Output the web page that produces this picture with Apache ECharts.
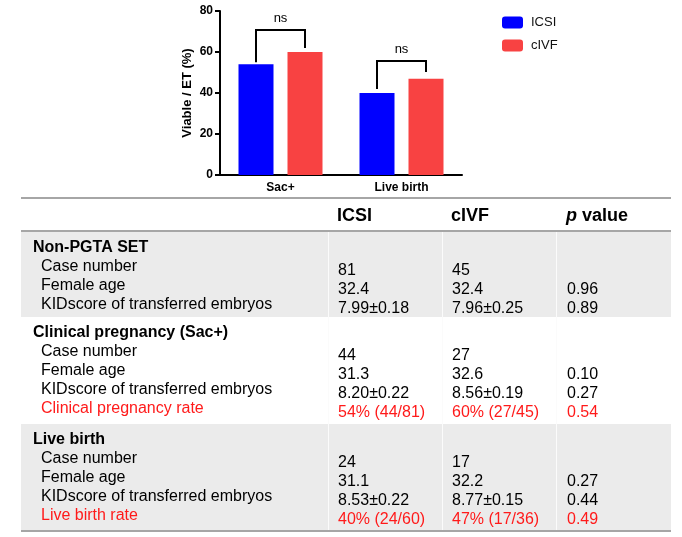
<!DOCTYPE html>
<html>
<head>
<meta charset="utf-8">
<script src="https://cdn.jsdelivr.net/npm/echarts@6/dist/echarts.min.js"></script>
<style>
  html, body { margin: 0; padding: 0; background: #fff; }
  #chart { width: 682px; height: 537px; }
</style>
</head>
<body>
<div id="chart"></div>
<script>
const FONT = '"Liberation Sans", Arial, sans-serif';

// bar chart
const categories = ['Sac+', 'Live birth'];
const icsiRates = [54, 40];
const civfRates = [60, 47];
const yTicks = [0, 20, 40, 60, 80];
// significance brackets: top, left foot, right foot (in % units)
const bracketTop = [70.7, 55.6];
const bracketLeft = [55, 42];
const bracketRight = [62, 50.2];
const bracketLabel = ['ns', 'ns'];

// table
const tableHeader = ['ICSI', 'cIVF', 'p value'];
const sectionTitles = ['Non-PGTA SET', 'Clinical pregnancy (Sac+)', 'Live birth'];
const rowLabels = [
  ['Case number', 'Female age', 'KIDscore of transferred embryos'],
  ['Case number', 'Female age', 'KIDscore of transferred embryos', 'Clinical pregnancy rate'],
  ['Case number', 'Female age', 'KIDscore of transferred embryos', 'Live birth rate']
];
const icsiCol = [
  ['81', '32.4', '7.99±0.18'],
  ['44', '31.3', '8.20±0.22', '54% (44/81)'],
  ['24', '31.1', '8.53±0.22', '40% (24/60)']
];
const civfCol = [
  ['45', '32.4', '7.96±0.25'],
  ['27', '32.6', '8.56±0.19', '60% (27/45)'],
  ['17', '32.2', '8.77±0.15', '47% (17/36)']
];
const pCol = [
  ['', '0.96', '0.89'],
  ['', '0.10', '0.27', '0.54'],
  ['', '0.27', '0.44', '0.49']
];

const chart = echarts.init(document.getElementById('chart'), null, { renderer: 'canvas' });

// ---- table drawn with graphic elements ----
const tblLeft = 21, tblRight = 671;
const colX = [338, 452, 567];
const sepX = [328, 442, 556];
const sectionTop = [232, 317, 424];
const sectionBottom = [317, 424, 531];
const sectionFill = ['#ebebeb', '#ffffff', '#ebebeb'];
const RED = '#ff1a1a';

const g = [];
sectionTop.forEach((top, s) => {
  g.push({ type: 'rect', shape: { x: tblLeft, y: top, width: tblRight - tblLeft, height: sectionBottom[s] - top },
    style: { fill: sectionFill[s] }, silent: true });
  sepX.forEach(x => g.push({ type: 'line', shape: { x1: x + 0.5, y1: top, x2: x + 0.5, y2: sectionBottom[s] },
    style: { stroke: '#fbfbfb', lineWidth: 1 }, silent: true }));
});
[198, 231, 531].forEach(y => g.push({ type: 'line', shape: { x1: tblLeft, y1: y, x2: tblRight, y2: y },
  style: { stroke: '#a6a6a6', lineWidth: 2 }, silent: true }));

tableHeader.forEach((h, i) => {
  const txt = h === 'p value' ? '{i|p} value' : h;
  g.push({ type: 'text', x: colX[i] - 1, y: 216, silent: true,
    style: { text: txt, font: 'bold 18px ' + FONT, fill: '#000', verticalAlign: 'middle',
      rich: { i: { fontStyle: 'italic', fontWeight: 'bold', fontSize: 18, fontFamily: FONT, fill: '#000' } } } });
});

sectionTitles.forEach((t, s) => {
  const top = sectionTop[s];
  g.push({ type: 'text', x: 33, y: top + 15.5, silent: true,
    style: { text: t, font: 'bold 16px ' + FONT, fill: '#000', verticalAlign: 'middle' } });
  rowLabels[s].forEach((lab, r) => {
    const y = top + 34.5 + r * 19;
    const color = r === 3 ? RED : '#000';
    g.push({ type: 'text', x: 41, y: y, silent: true,
      style: { text: lab, font: '16px ' + FONT, fill: color, verticalAlign: 'middle' } });
    [icsiCol[s][r], civfCol[s][r], pCol[s][r]].forEach((v, c) => {
      if (!v) return;
      g.push({ type: 'text', x: colX[c], y: y + 4.5, silent: true,
        style: { text: v, font: '16px ' + FONT, fill: color, verticalAlign: 'middle' } });
    });
  });
});

// ---- bar chart ----
const BAR_W = 35;
const HALF = 24.5;

const option = {
  animation: false,
  backgroundColor: '#fff',
  textStyle: { fontFamily: FONT },
  grid: { left: 220, top: 11, width: 242, height: 164 },
  legend: {
    data: ['ICSI', 'cIVF'],
    orient: 'vertical',
    left: 502, top: 16,
    padding: 0,
    itemWidth: 21, itemHeight: 12, itemGap: 10,
    icon: 'roundRect',
    textStyle: { fontSize: 13, color: '#111', fontFamily: FONT, padding: [0, 0, 0, 3] }
  },
  xAxis: {
    type: 'category',
    data: categories,
    axisLine: { lineStyle: { color: '#000', width: 2 } },
    axisTick: { alignWithLabel: true, length: 5, lineStyle: { color: '#000', width: 2 } },
    axisLabel: { fontSize: 12, fontWeight: 'bold', color: '#000', margin: 7, fontFamily: FONT }
  },
  yAxis: {
    type: 'value',
    min: yTicks[0], max: yTicks[yTicks.length - 1], interval: 20,
    name: 'Viable / ET (%)',
    nameLocation: 'middle',
    nameGap: 26,
    nameTextStyle: { fontSize: 13, fontWeight: 'bold', color: '#000', fontFamily: FONT },
    axisLine: { show: true, lineStyle: { color: '#000', width: 2 } },
    axisTick: { show: true, length: 5, lineStyle: { color: '#000', width: 2 } },
    axisLabel: { fontSize: 12, fontWeight: 'bold', color: '#000', margin: 7, fontFamily: FONT },
    splitLine: { show: false }
  },
  series: [
    { name: 'ICSI', type: 'bar', data: icsiRates, barWidth: BAR_W, barGap: '40%', itemStyle: { color: '#0000ff' } },
    { name: 'cIVF', type: 'bar', data: civfRates, barWidth: BAR_W, barGap: '40%', itemStyle: { color: '#f84242' } },
    {
      type: 'custom',
      silent: true,
      data: categories.map((c, i) => [i, bracketTop[i], bracketLeft[i], bracketRight[i]]),
      encode: { x: 0, y: 1 },
      renderItem: function(params, api) {
        const i = api.value(0);
        const top = api.coord([i, api.value(1)]);
        const yl = api.coord([i, api.value(2)])[1];
        const yr = api.coord([i, api.value(3)])[1];
        const x0 = top[0] - HALF, x1 = top[0] + HALF;
        return {
          type: 'group',
          children: [
            { type: 'polyline', shape: { points: [[x0, yl], [x0, top[1]], [x1, top[1]], [x1, yr]] },
              style: { stroke: '#000', lineWidth: 2, fill: null } },
            { type: 'text', x: top[0], y: top[1] - 12,
              style: { text: bracketLabel[params.dataIndex], font: '13px ' + FONT, fill: '#000',
                align: 'center', verticalAlign: 'middle' } }
          ]
        };
      }
    }
  ],
  graphic: g
};

chart.setOption(option);
</script>
</body>
</html>
